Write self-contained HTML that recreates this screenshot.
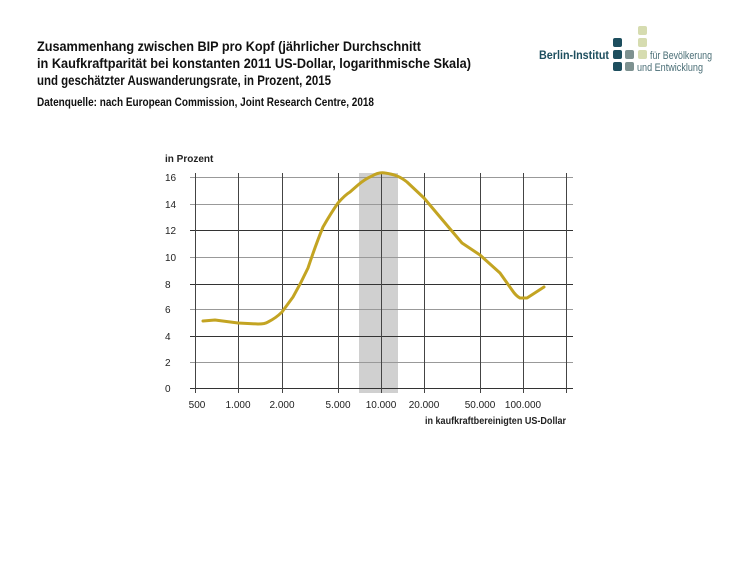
<!DOCTYPE html>
<html><head><meta charset="utf-8"><style>
html,body{margin:0;padding:0;background:#fff}
svg{display:block}
text{font-family:"Liberation Sans Narrow","Liberation Sans",sans-serif}
</style></head><body>
<svg width="750" height="562" viewBox="0 0 750 562" xmlns="http://www.w3.org/2000/svg">
<g font-weight="bold" font-size="14" fill="#111">
<text x="37" y="51" textLength="384" lengthAdjust="spacingAndGlyphs">Zusammenhang zwischen BIP pro Kopf (jährlicher Durchschnitt</text>
<text x="37" y="68" textLength="434" lengthAdjust="spacingAndGlyphs">in Kaufkraftparität bei konstanten 2011 US-Dollar, logarithmische Skala)</text>
<text x="37" y="85" textLength="294" lengthAdjust="spacingAndGlyphs">und geschätzter Auswanderungsrate, in Prozent, 2015</text>
<text x="37" y="106" font-size="12" textLength="337" lengthAdjust="spacingAndGlyphs">Datenquelle: nach European Commission, Joint Research Centre, 2018</text>
</g>
<!-- logo -->
<g>
<rect x="638" y="26" width="9" height="9" rx="2" fill="#d6dcb0"/>
<rect x="638" y="38" width="9" height="9" rx="2" fill="#d6dcb0"/>
<rect x="613" y="38" width="9" height="9" rx="2" fill="#1d4e5e"/>
<rect x="613" y="50" width="9" height="9" rx="2" fill="#1d4e5e"/>
<rect x="625" y="50" width="9" height="9" rx="2" fill="#7d9190"/>
<rect x="638" y="50" width="9" height="9" rx="2" fill="#d6dcb0"/>
<rect x="613" y="62" width="9" height="9" rx="2" fill="#1d4e5e"/>
<rect x="625" y="62" width="9" height="9" rx="2" fill="#7d9190"/>
<text x="539" y="59" font-size="12" font-weight="bold" fill="#1d4e5e" textLength="70" lengthAdjust="spacingAndGlyphs">Berlin-Institut</text>
<text x="650" y="59" font-size="11" fill="#4a6e76" textLength="62" lengthAdjust="spacingAndGlyphs">für Bevölkerung</text>
<text x="637" y="71" font-size="11" fill="#4a6e76" textLength="66" lengthAdjust="spacingAndGlyphs">und Entwicklung</text>
</g>
<!-- band -->
<rect x="359" y="173" width="39" height="220" fill="#d0d0d0"/>
<!-- grid -->
<g stroke="#999" stroke-width="1">
<line x1="190" y1="177.5" x2="573" y2="177.5"/>
<line x1="190" y1="204.5" x2="573" y2="204.5"/>
<line x1="190" y1="257.5" x2="573" y2="257.5"/>
<line x1="190" y1="309.5" x2="573" y2="309.5"/>
<line x1="190" y1="362.5" x2="573" y2="362.5"/>
</g>
<g stroke="#333" stroke-width="1">
<line x1="190" y1="230.5" x2="573" y2="230.5"/>
<line x1="190" y1="284.5" x2="573" y2="284.5"/>
<line x1="190" y1="336.5" x2="573" y2="336.5"/>
<line x1="190" y1="388.5" x2="573" y2="388.5"/>
</g>
<g stroke="#444" stroke-width="1">
<line x1="195.5" y1="173" x2="195.5" y2="393"/>
<line x1="238.5" y1="173" x2="238.5" y2="393"/>
<line x1="282.5" y1="173" x2="282.5" y2="393"/>
<line x1="338.5" y1="173" x2="338.5" y2="393"/>
<line x1="381.5" y1="173" x2="381.5" y2="393"/>
<line x1="424.5" y1="173" x2="424.5" y2="393"/>
<line x1="480.5" y1="173" x2="480.5" y2="393"/>
<line x1="523.5" y1="173" x2="523.5" y2="393"/>
<line x1="566.5" y1="173" x2="566.5" y2="393"/>
</g>
<!-- curve -->
<path d="M203,321 L215,320 L238,323 L258,324 Q265,324 268,322 Q276,318 282,312 L293,297 Q301,283 308,268 Q316,244 323,227 Q331,213 338,203 Q345,195 350,192 L358,185 Q365,179 372,176 Q379,172 385,173 Q392,174 397,176 Q402,178 407,182 L424,198 L440,217 L462,243 L480,255 L500,273 L512,290 Q516,296 520,298 L527,298 L544,287" fill="none" stroke="#c3a422" stroke-width="3" stroke-linejoin="round" stroke-linecap="round"/>
<!-- labels -->
<g font-size="10" fill="#222">
<text x="165" y="162" font-weight="bold" font-size="10">in Prozent</text>
<text x="165" y="181">16</text>
<text x="165" y="208">14</text>
<text x="165" y="234">12</text>
<text x="165" y="261">10</text>
<text x="165" y="288">8</text>
<text x="165" y="313">6</text>
<text x="165" y="340">4</text>
<text x="165" y="366">2</text>
<text x="165" y="392">0</text>
<g text-anchor="middle">
<text x="197" y="408">500</text>
<text x="238" y="408">1.000</text>
<text x="282" y="408">2.000</text>
<text x="338" y="408">5.000</text>
<text x="381" y="408">10.000</text>
<text x="424" y="408">20.000</text>
<text x="480" y="408">50.000</text>
<text x="523" y="408">100.000</text>
</g>
<text x="566" y="424" text-anchor="end" font-weight="bold" textLength="141" lengthAdjust="spacingAndGlyphs">in kaufkraftbereinigten US-Dollar</text>
</g>
</svg>
</body></html>
